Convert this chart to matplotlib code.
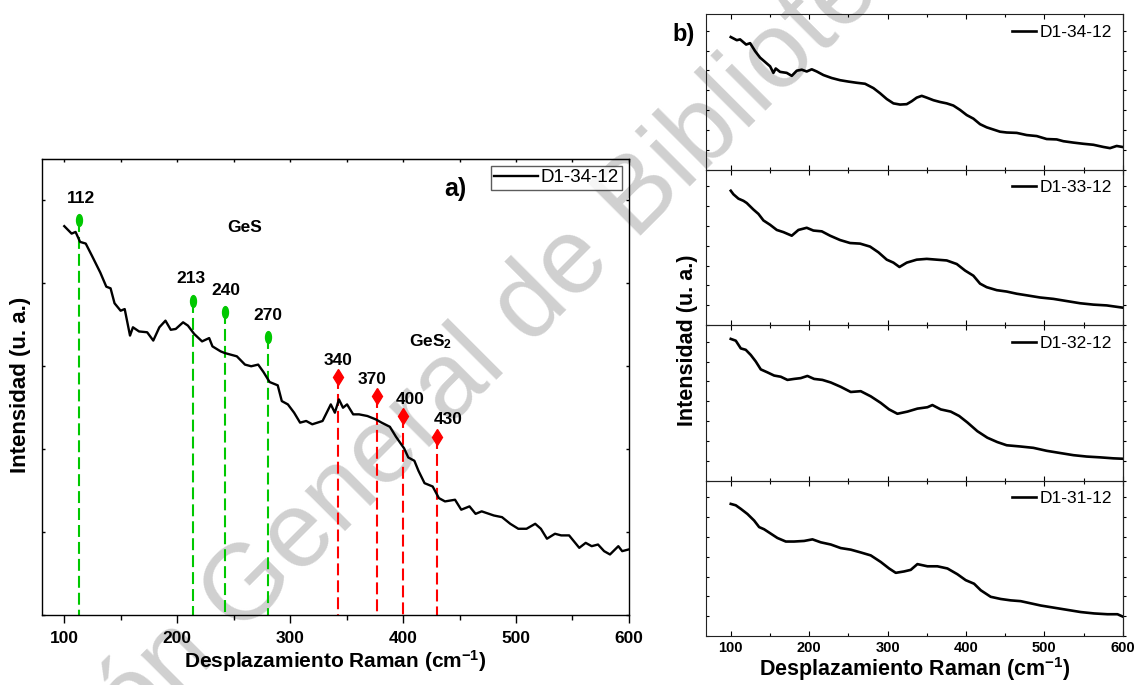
"""Raman spectra of GeS/GeS2 films: (a) single spectrum with peak markers, (b) four samples stacked."""

import matplotlib
matplotlib.use("Agg")
import matplotlib.pyplot as plt
from matplotlib.path import Path
from matplotlib.transforms import Affine2D
from matplotlib.ticker import MultipleLocator

# ── data ───────────────────────────────────────────────────
# panel a) D1-34-12 (shift in cm-1, intensity in arbitrary units)
a_shift = [100, 106.5, 110, 114, 119, 124.6, 131.9, 137.2, 141, 144.5, 149.9, 153.5,
           158.2, 160.8, 166.2, 173.4, 178.8, 184.2, 189.6, 194.3, 198.7, 205.2, 209.5,
           215, 222, 228.3, 231.2, 238.4, 242, 247.4, 252.8, 260, 265.5, 271.7, 276.4,
           281.8, 289, 292.6, 298, 303.5, 308.8, 314.2, 319.6, 328.7, 336, 339.6, 343.2,
           346.8, 350.4, 355.8, 361, 368.4, 375.7, 381, 388.3, 393.7, 400.9, 404.6, 410,
           413.6, 419, 426.2, 431.7, 437.1, 446, 451.5, 458.8, 464.2, 469.6, 480.4, 487.6,
           494.9, 502, 509.3, 517, 522, 527.4, 534.5, 540, 547, 556, 561.7, 567, 572.6,
           578, 583.2, 590.6, 594, 599.6]
a_int = [4.69, 4.60, 4.62, 4.50, 4.48, 4.33, 4.13, 3.96, 3.94, 3.76, 3.67, 3.69,
         3.37, 3.47, 3.42, 3.41, 3.31, 3.47, 3.55, 3.44, 3.45, 3.53, 3.49,
         3.39, 3.30, 3.34, 3.24, 3.18, 3.16, 3.14, 3.12, 3.02, 3.00, 3.02, 2.93,
         2.81, 2.77, 2.58, 2.54, 2.44, 2.32, 2.34, 2.30, 2.34, 2.54, 2.44, 2.60,
         2.50, 2.54, 2.42, 2.42, 2.40, 2.36, 2.32, 2.27, 2.15, 2.01, 1.90, 1.86,
         1.74, 1.59, 1.55, 1.41, 1.37, 1.39, 1.27, 1.31, 1.22, 1.25, 1.20, 1.18,
         1.10, 1.04, 1.04, 1.10, 1.04, 0.92, 0.98, 0.96, 0.96, 0.81, 0.87, 0.83, 0.85,
         0.77, 0.73, 0.83, 0.77, 0.79]

# peak markers: where the dashed line sits, the label written, marker height
ges_pos = [113, 214, 242, 280]
ges_lbl = ["112", "213", "240", "270"]
ges_y = [4.76, 3.79, 3.65, 3.35]
ges2_pos = [342, 377, 400, 430]
ges2_lbl = ["340", "370", "400", "430"]
ges2_y = [2.87, 2.64, 2.40, 2.15]

# panel b) four samples
b_names = ["D1-34-12", "D1-33-12", "D1-32-12", "D1-31-12"]
b_shift = [
    [100, 107.7, 111.9, 119.6, 124.7, 131, 137.4, 143.8, 150.2, 154.4, 157.4, 162.9,
     171.4, 177.8, 184.2, 190.6, 196.9, 203.3, 209.7, 218.2, 228.8, 239.5, 250.1,
     260.7, 271.3, 282, 290.5, 299, 307.5, 316, 324.5, 330.9, 337.2, 343.6, 350,
     358.5, 367, 375.5, 384, 392.5, 401, 409.5, 418, 426.5, 435, 443.5, 452, 464.8,
     477.5, 490.3, 503, 515.8, 524.3, 537.1, 549.8, 562.6, 575.3, 583.8, 592.3, 599.6],
    [100, 103.4, 109.8, 116.2, 120.4, 128.9, 135.3, 141.7, 150.2, 158.7, 167.2, 177.8,
     186.3, 196.9, 205.4, 216.1, 226.7, 239.5, 252.2, 265, 277.7, 288.4, 299, 307.5,
     315.2, 324.5, 337.2, 350, 362.7, 375.5, 388.3, 398.9, 409.5, 418, 426.5, 439.3,
     452, 464.8, 477.5, 494.6, 511.6, 528.6, 545.6, 562.6, 579.6, 592.3, 599.6],
    [100, 106.4, 112.8, 119.1, 125.5, 131.9, 138.3, 146.8, 155.3, 163.8, 172.3, 180.8,
     189.3, 197.8, 206.3, 216.9, 227.6, 240.3, 253.1, 265.8, 278.6, 291.3, 302, 312.6,
     325.4, 338.1, 350.9, 357.2, 367.9, 380.6, 391.3, 401.9, 414.6, 427.4, 440.1, 452,
     469, 486, 503, 520, 537.1, 554.1, 571.1, 588.1, 599.6],
    [100, 106.4, 112.8, 121.3, 129.8, 136.2, 142.5, 151, 159.5, 170.2, 180.8, 193.6,
     204.2, 214.9, 227.6, 240.3, 253.1, 265.8, 278.6, 291.3, 302, 310.5, 321.1, 329.6,
     338.1, 350.9, 363.6, 376.4, 389.1, 399.7, 410.4, 418.9, 431.6, 444.4, 457.1,
     469.9, 482.7, 495.4, 512.4, 529.4, 546.5, 563.5, 580.5, 593.3, 599.6],
]
b_int = [
    [6.69, 6.53, 6.57, 6.31, 6.38, 5.98, 5.65, 5.43, 5.21, 4.88, 5.10, 4.93,
     4.88, 4.73, 4.99, 5.04, 4.95, 5.06, 4.95, 4.77, 4.62, 4.51, 4.44,
     4.38, 4.33, 4.11, 3.85, 3.56, 3.34, 3.28, 3.30, 3.45, 3.63, 3.72, 3.63,
     3.50, 3.41, 3.34, 3.23, 3.01, 2.75, 2.57, 2.29, 2.13, 2.02, 1.91, 1.87, 1.85,
     1.74, 1.69, 1.54, 1.52, 1.43, 1.36, 1.30, 1.25, 1.14, 1.08, 1.19, 1.14],
    [6.78, 6.60, 6.38, 6.27, 6.16, 5.83, 5.61, 5.28, 5.06, 4.80, 4.69, 4.51,
     4.80, 4.91, 4.77, 4.73, 4.51, 4.29, 4.14, 4.11, 3.96, 3.67, 3.30, 3.15,
     2.93, 3.15, 3.30, 3.34, 3.30, 3.26, 3.08, 2.75, 2.49, 2.09, 1.91, 1.76,
     1.69, 1.58, 1.50, 1.39, 1.32, 1.21, 1.10, 1.03, 0.99, 0.92, 0.88],
    [7.15, 7.06, 6.67, 6.60, 6.34, 6.01, 5.61, 5.46, 5.30, 5.24, 5.08, 5.13,
     5.17, 5.28, 5.13, 5.08, 4.95, 4.73, 4.47, 4.51, 4.25, 3.92, 3.59, 3.37,
     3.48, 3.63, 3.70, 3.81, 3.59, 3.48, 3.26, 2.93, 2.49, 2.16, 1.94, 1.78,
     1.72, 1.65, 1.50, 1.39, 1.28, 1.21, 1.17, 1.12, 1.10],
    [6.67, 6.60, 6.42, 6.16, 5.83, 5.50, 5.39, 5.17, 4.95, 4.77, 4.77, 4.80,
     4.88, 4.73, 4.62, 4.44, 4.36, 4.22, 4.07, 3.74, 3.41, 3.19, 3.26, 3.34,
     3.63, 3.52, 3.52, 3.41, 3.12, 2.82, 2.64, 2.31, 1.98, 1.87, 1.80,
     1.76, 1.65, 1.54, 1.43, 1.32, 1.21, 1.14, 1.10, 1.10, 0.99],
]

# ── style ──────────────────────────────────────────────────
plt.rcParams["font.family"] = ["Liberation Sans", "DejaVu Sans"]
plt.rcParams["mathtext.fontset"] = "custom"
plt.rcParams["mathtext.rm"] = "Liberation Sans"
plt.rcParams["mathtext.bf"] = "Liberation Sans:bold"
plt.rcParams["mathtext.default"] = "bf"
plt.rcParams["lines.scale_dashes"] = False

GREEN = "#00c800"
RED = "#ff0000"
ellipse = Path.unit_circle().transformed(Affine2D().scale(0.5, 1.0))

fig = plt.figure(figsize=(11.39, 6.85), dpi=100)
fig.patch.set_facecolor("white")

# watermark, kept underneath the axes
fig.text(0.397, 0.381, "Dirección General de Bibliotecas", rotation=45,
         rotation_mode="anchor", ha="center", va="baseline",
         fontsize=77, color="#d0d0d0", zorder=-10)

# ── panel a) ───────────────────────────────────────────────
ax = fig.add_axes([0.0366, 0.1022, 0.5156, 0.6657])
ax.set_facecolor("none")
ax.plot(a_shift, a_int, color="black", linewidth=1.7, label="D1-34-12", zorder=3)

for pos, lbl, yv, dx in zip(ges_pos, ges_lbl, ges_y, [1.8, -1.4, 0.7, 0.0]):
    ax.plot([pos, pos], [yv, 0], color=GREEN, linewidth=1.5, dashes=(8.6, 3.6), zorder=2)
    ax.plot(pos, yv, marker=ellipse, markersize=8.5, color=GREEN, linestyle="none", zorder=4)
    ax.annotate(lbl, (pos, yv), xytext=(dx, 12.5), textcoords="offset points",
                ha="center", va="baseline", fontsize=12.5, fontweight="bold")
for pos, lbl, yv, dx in zip(ges2_pos, ges2_lbl, ges2_y, [0.0, -3.6, 5.0, 7.9]):
    ax.plot([pos, pos], [yv, 0], color=RED, linewidth=1.5, dashes=(8.6, 3.6), zorder=2)
    ax.plot(pos, yv, marker="d", markersize=8.5, color=RED, linestyle="none", zorder=4)
    ax.annotate(lbl, (pos, yv), xytext=(dx, 9.0), textcoords="offset points",
                ha="center", va="baseline", fontsize=12.5, fontweight="bold")

ax.text(260, 4.62, "GeS", ha="center", va="baseline", fontsize=12.5, fontweight="bold")
ax.text(424, 3.24, r"GeS$_\mathbf{2}$", ha="center", va="baseline", fontsize=12.5,
        fontweight="bold")
ax.text(446, 5.05, "a)", ha="center", va="baseline", fontsize=18, fontweight="bold")

ax.set_xlim(80, 600)
ax.set_ylim(0, 5.5)
ax.xaxis.set_major_locator(MultipleLocator(100))
ax.xaxis.set_minor_locator(MultipleLocator(50))
ax.yaxis.set_major_locator(MultipleLocator(1))
ax.tick_params(axis="x", which="major", direction="out", length=5.8, width=1.0, pad=6)
ax.tick_params(axis="x", which="minor", direction="out", length=3.6, width=1.0)
ax.tick_params(axis="y", which="major", direction="in", length=2.2, width=1.0,
               left=True, right=True, labelleft=False)
for lab in ax.get_xticklabels():
    lab.set_fontsize(12.5)
    lab.set_fontweight("bold")
for sp in ax.spines.values():
    sp.set_linewidth(1.0)
top = ax.secondary_xaxis("top")
top.xaxis.set_major_locator(MultipleLocator(100))
top.xaxis.set_minor_locator(MultipleLocator(50))
top.tick_params(axis="x", which="both", direction="in", length=2.2, width=1.0, labeltop=False)

leg = ax.legend(loc="upper right", fontsize=13.5, frameon=True, fancybox=False,
                handlelength=2.3, handletextpad=0.15, borderpad=0.2, borderaxespad=0.35)
leg.get_frame().set_edgecolor("#333333")
leg.get_frame().set_linewidth(1.0)

fig.text(0.2946, 0.035, "Desplazamiento Raman (cm$^{-1}$)", ha="center", va="center",
         fontsize=15, fontweight="bold")
fig.text(0.0184, 0.4387, "Intensidad (u. a.)", rotation=90, ha="center", va="center",
         fontsize=16, fontweight="bold")

# ── panel b) ───────────────────────────────────────────────
b_left, b_width = 0.6199, 0.3658
b_bottom, b_height = 0.0715, 0.2270
axes_b = []
for i, (name, xs, ys) in enumerate(zip(b_names, b_shift, b_int)):
    axb = fig.add_axes([b_left, b_bottom + (3 - i) * b_height, b_width, b_height])
    axb.set_facecolor("none")
    axb.plot(xs, ys, color="black", linewidth=1.9, label=name)
    axb.set_xlim(68.5, 600)
    axb.set_ylim(0, 7.85)
    axb.xaxis.set_major_locator(MultipleLocator(100))
    axb.xaxis.set_minor_locator(MultipleLocator(50))
    axb.yaxis.set_major_locator(MultipleLocator(1))
    axb.tick_params(axis="x", which="major", direction="in", length=3.6, width=0.8,
                    top=True, bottom=True, labelbottom=(i == 3), pad=3.5)
    axb.tick_params(axis="x", which="minor", direction="in", length=2.2, width=0.8,
                    top=True, bottom=True)
    axb.tick_params(axis="y", which="major", direction="in", length=2.2, width=0.8,
                    labelleft=False)
    rt = axb.secondary_yaxis("right")
    rt.yaxis.set_major_locator(MultipleLocator(1))
    rt.tick_params(axis="y", direction="out", length=2.2, width=0.8, labelright=False)
    rt.spines["right"].set_linewidth(0.8)
    for sp in axb.spines.values():
        sp.set_linewidth(0.8)
        sp.set_color("#222222")
    axb.legend(loc="upper right", frameon=False, fontsize=12.5, handlelength=1.4,
               handletextpad=0.2, borderaxespad=0.2)
    axes_b.append(axb)

for lab in axes_b[-1].get_xticklabels():
    lab.set_fontsize(10.5)
    lab.set_fontweight("bold")

fig.text(0.6, 0.949, "b)", ha="center", va="center", fontsize=17, fontweight="bold")
fig.text(0.803, 0.0234, "Desplazamiento Raman (cm$^{-1}$)", ha="center", va="center",
         fontsize=15.5, fontweight="bold")
fig.text(0.604, 0.504, "Intensidad (u. a.)", rotation=90, ha="center", va="center",
         fontsize=15.5, fontweight="bold")

fig.savefig("out.png", dpi=100, facecolor="white")
